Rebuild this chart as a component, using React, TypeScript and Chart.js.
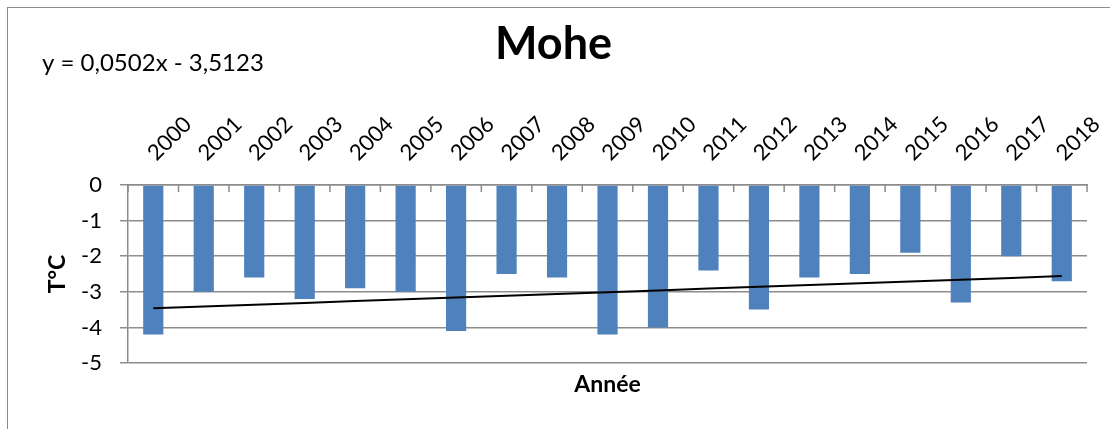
import React, { useEffect, useRef } from "react";
import { Chart, registerables } from "chart.js";

Chart.register(...registerables);

const years = ["2000", "2001", "2002", "2003", "2004", "2005", "2006", "2007", "2008", "2009", "2010", "2011", "2012", "2013", "2014", "2015", "2016", "2017", "2018"];
const temperatures = [-4.2, -3.0, -2.6, -3.2, -2.9, -3.0, -4.1, -2.5, -2.6, -4.2, -4.0, -2.4, -3.5, -2.6, -2.5, -1.9, -3.3, -2.0, -2.7];
const trendSlope = 0.0502;
const trendIntercept = -3.5123;
const trendLabel = "y = 0,0502x - 3,5123";
const chartTitle = "Mohe";
const xTitle = "Année";
const yTitle = "T°C";
const yMin = -5;
const yMax = 0;
const yStep = 1;

// Linear trendline defined by the equation shown on the chart (x = 1..n)
const trendValues = years.map((_, i) => trendSlope * (i + 1) + trendIntercept);

const GRID = "#8c8c8c";
const FONT = "Lato, 'DejaVu Sans', sans-serif";

const insideTicks = {
  id: "insideTicks",
  afterDatasetsDraw(chart: any) {
    const x = chart.scales.x;
    const top = chart.chartArea.top;
    const n = x.ticks.length;
    const ctx = chart.ctx;
    ctx.save();
    ctx.strokeStyle = GRID;
    ctx.lineWidth = 1.5;
    for (let i = 0; i <= n; i++) {
      const px =
        i === 0 ? x.left : i === n ? x.right : (x.getPixelForValue(i - 1) + x.getPixelForValue(i)) / 2;
      ctx.beginPath();
      ctx.moveTo(px, top);
      ctx.lineTo(px, top + 7);
      ctx.stroke();
    }
    ctx.restore();
  },
};

const equationLabel = {
  id: "equationLabel",
  afterDraw(chart: any) {
    const ctx = chart.ctx;
    ctx.save();
    ctx.fillStyle = "#000";
    ctx.font = `24px ${FONT}`;
    ctx.textAlign = "left";
    ctx.textBaseline = "middle";
    ctx.fillText(trendLabel, 22, 63);
    ctx.restore();
  },
};

export default function App() {
  const ref = useRef<HTMLCanvasElement | null>(null);

  useEffect(() => {
    if (!ref.current) return;
    Chart.defaults.font.family = FONT;
    const chart = new Chart(ref.current, {
      type: "bar",
      data: {
        labels: years,
        datasets: [
          {
            type: "line",
            label: "Trend",
            data: trendValues,
            borderColor: "#000",
            borderWidth: 2,
            pointRadius: 0,
            fill: false,
            tension: 0,
            order: 1,
          } as any,
          {
            type: "bar",
            label: yTitle,
            data: temperatures,
            backgroundColor: "#4f81bd",
            borderWidth: 0,
            categoryPercentage: 1,
            barPercentage: 0.4,
            order: 2,
          },
        ],
      },
      options: {
        responsive: false,
        animation: false,
        devicePixelRatio: 1,
        layout: { padding: { left: 0, right: 23, top: 0, bottom: 0 } },
        plugins: {
          legend: { display: false },
          tooltip: { enabled: false },
          title: {
            display: true,
            text: chartTitle,
            color: "#000",
            font: { size: 45, weight: "bold", family: FONT },
            padding: { top: 17, bottom: 34.3 },
          },
        },
        scales: {
          x: {
            position: "top",
            offset: true,
            grid: { display: false, drawTicks: true, tickLength: 13 },
            border: { display: true, color: GRID, width: 1.5 },
            ticks: {
              minRotation: 45,
              maxRotation: 45,
              autoSkip: false,
              padding: 6,
              labelOffset: 17,
              color: "#000",
              font: { size: 22, family: FONT },
            },
          },
          x2: {
            type: "category",
            position: "bottom",
            grid: { display: false, drawTicks: false },
            border: { display: false },
            ticks: { display: false },
            title: {
              display: true,
              text: xTitle,
              color: "#000",
              font: { size: 23, weight: "bold", family: FONT },
              padding: { top: 8.2, bottom: 30.2 },
            },
          },
          y: {
            min: yMin,
            max: yMax,
            ticks: {
              stepSize: yStep,
              padding: 18,
              color: "#000",
              font: { size: 22, family: FONT },
            },
            grid: { color: GRID, lineWidth: 1.5, drawTicks: true, tickLength: 8 },
            border: { display: true, color: GRID, width: 1.5 },
            title: {
              display: true,
              text: yTitle,
              color: "#000",
              font: { size: 23, weight: "bold", family: FONT },
              padding: { top: 23.7, bottom: -8.2 },
            },
          },
        },
      },
      plugins: [insideTicks, equationLabel],
    });
    return () => chart.destroy();
  }, []);

  return (
    <div
      style={{
        position: "fixed",
        left: 0,
        top: 0,
        width: 1110,
        height: 429,
        overflow: "hidden",
        background: "#fff",
      }}
    >
      <div
        style={{
          position: "absolute",
          left: 7,
          top: 7,
          width: 1300,
          height: 600,
          borderLeft: "1.5px solid #8c8c8c",
          borderTop: "1.5px solid #8c8c8c",
        }}
      />
      <canvas
        ref={ref}
        width={1090}
        height={429}
        style={{ position: "absolute", left: 20, top: 0, width: 1090, height: 429 }}
      />
    </div>
  );
}
